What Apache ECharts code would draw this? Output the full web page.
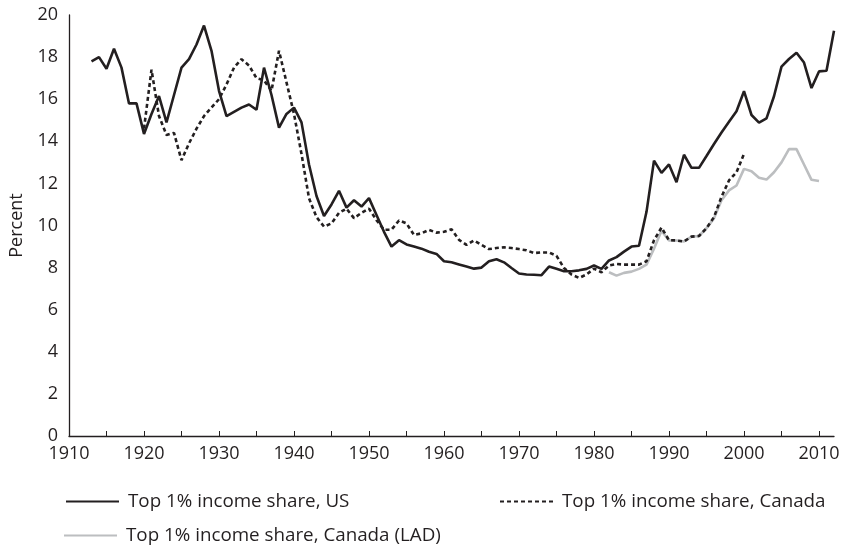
<!DOCTYPE html>
<html>
<head>
    <meta charset="UTF-8">
    <title>Top 1% income share</title>
    <script type="text/javascript" src="https://cdn.jsdelivr.net/npm/echarts@6/dist/echarts.min.js"></script>
    <style>
        html, body { margin: 0; padding: 0; background: #fff; }
        #chart { width: 843px; height: 545px; }
    </style>
</head>
<body>
<div id="chart"></div>
<script type="text/javascript">
    // 美国 top 1% 收入占比 1913-2012
    var usStart = 1913;
    var usShare = [
        17.8, 18.0, 17.45, 18.4, 17.5, 15.8, 15.8, 14.35, 15.3, 16.15,
        14.9, 16.2, 17.5, 17.9, 18.6, 19.5, 18.3, 16.4, 15.2, 15.4,
        15.6, 15.75, 15.5, 17.5, 16.2, 14.65, 15.3, 15.6, 14.9, 12.9,
        11.4, 10.45, 11.0, 11.65, 10.85, 11.2, 10.9, 11.3, 10.5, 9.7,
        9.0, 9.3, 9.1, 9.0, 8.9, 8.75, 8.65, 8.3, 8.25, 8.15,
        8.05, 7.95, 8.0, 8.3, 8.4, 8.25, 7.98, 7.72, 7.67, 7.66,
        7.64, 8.05, 7.94, 7.83, 7.83, 7.87, 7.94, 8.1, 7.94, 8.34,
        8.5, 8.76, 9.0, 9.04, 10.65, 13.08, 12.5, 12.9, 12.06, 13.36,
        12.74, 12.74, 13.3, 13.87, 14.42, 14.93, 15.43, 16.38, 15.25, 14.89,
        15.09, 16.14, 17.55, 17.91, 18.21, 17.74, 16.53, 17.32, 17.35, 19.25
    ];
    // 加拿大 top 1% 收入占比 1920-2000
    var caStart = 1920;
    var caShare = [
        14.6, 17.4, 15.2, 14.3, 14.4, 13.1, 13.9, 14.6, 15.2, 15.6,
        16.0, 16.7, 17.5, 17.9, 17.6, 17.0, 16.9, 16.4, 18.3, 16.8,
        15.3, 13.4, 11.3, 10.4, 9.95, 10.1, 10.6, 10.8, 10.35, 10.6,
        10.8, 10.25, 9.8, 9.8, 10.24, 10.1, 9.55, 9.63, 9.79, 9.66,
        9.7, 9.82, 9.32, 9.08, 9.29, 9.08, 8.88, 8.93, 8.96, 8.93,
        8.88, 8.82, 8.69, 8.72, 8.72, 8.56, 7.98, 7.67, 7.51, 7.67,
        7.95, 7.78, 8.1, 8.17, 8.14, 8.14, 8.14, 8.3, 9.3, 9.9,
        9.3, 9.29, 9.24, 9.47, 9.5, 9.87, 10.4, 11.36, 12.14, 12.53,
        13.4
    ];
    // 加拿大 LAD 1982-2010
    var ladStart = 1982;
    var ladShare = [
        7.78, 7.62, 7.75, 7.81, 7.94, 8.14, 8.9, 9.75, 9.29, 9.29,
        9.24, 9.47, 9.5, 9.87, 10.34, 11.2, 11.67, 11.9, 12.69, 12.58,
        12.27, 12.18, 12.53, 13.0, 13.63, 13.63, 12.9, 12.17, 12.11
    ];
    var xTicks = [1910, 1920, 1930, 1940, 1950, 1960, 1970, 1980, 1990, 2000, 2010];
    var yTicks = [0, 2, 4, 6, 8, 10, 12, 14, 16, 18, 20];
    var names = ['Top 1% income share, US', 'Top 1% income share, Canada', 'Top 1% income share, Canada (LAD)'];

    function pairs(start, vals) {
        var out = [];
        for (var i = 0; i < vals.length; i++) {
            out.push([start + i, vals[i]]);
        }
        return out;
    }

    var font = 'Open Sans';
    var fs = 18;
    var dark = '#231f20';
    var grey = '#bcbec0';

    function legendAt(name, left, top) {
        return {
            data: [name], left: left, top: top,
            itemWidth: 53, itemHeight: 10,
            itemStyle: { opacity: 0 },
            textStyle: { color: dark, fontFamily: font, fontSize: 18.8, padding: [0, 0, 0, 4] }
        };
    }

    var myChart = echarts.init(document.getElementById('chart'));
    var option = {
        animation: false,
        grid: { left: 66, right: 9, top: 15, bottom: 109 },
        xAxis: {
            type: 'value',
            min: 1910, max: 2012, interval: 5,
            axisLine: { lineStyle: { color: dark, width: 1.3 } },
            axisTick: { show: true, length: 5, inside: true, lineStyle: { color: dark } },
            splitLine: { show: false },
            axisLabel: {
                color: dark, fontFamily: font, fontSize: fs, margin: 9,
                showMaxLabel: false,
                formatter: function (v) { return xTicks.indexOf(v) >= 0 ? String(v) : ''; }
            }
        },
        yAxis: {
            type: 'value',
            min: 0, max: 20, interval: 2,
            name: 'Percent',
            nameLocation: 'middle',
            nameGap: 43,
            nameTextStyle: { color: dark, fontFamily: font, fontSize: fs },
            axisLine: { show: true, lineStyle: { color: dark, width: 1.3 } },
            axisTick: { show: false },
            splitLine: { show: false },
            axisLabel: {
                color: dark, fontFamily: font, fontSize: fs, margin: 11,
                formatter: function (v) { return yTicks.indexOf(v) >= 0 ? String(v) : ''; }
            }
        },
        legend: [
            legendAt(names[0], 60, 487),
            legendAt(names[1], 494, 487),
            legendAt(names[2], 58, 521)
        ],
        series: [
            {
                name: names[2], type: 'line', symbol: 'none', z: 1,
                lineStyle: { color: grey, width: 2.6 }, itemStyle: { color: grey },
                data: pairs(ladStart, ladShare)
            },
            {
                name: names[1], type: 'line', symbol: 'none', z: 2,
                lineStyle: { color: dark, width: 2.6, type: [4, 3] }, itemStyle: { color: dark },
                data: pairs(caStart, caShare)
            },
            {
                name: names[0], type: 'line', symbol: 'none', z: 3,
                lineStyle: { color: dark, width: 2.6 }, itemStyle: { color: dark },
                data: pairs(usStart, usShare)
            }
        ]
    };
    myChart.setOption(option);
</script>
</body>
</html>
